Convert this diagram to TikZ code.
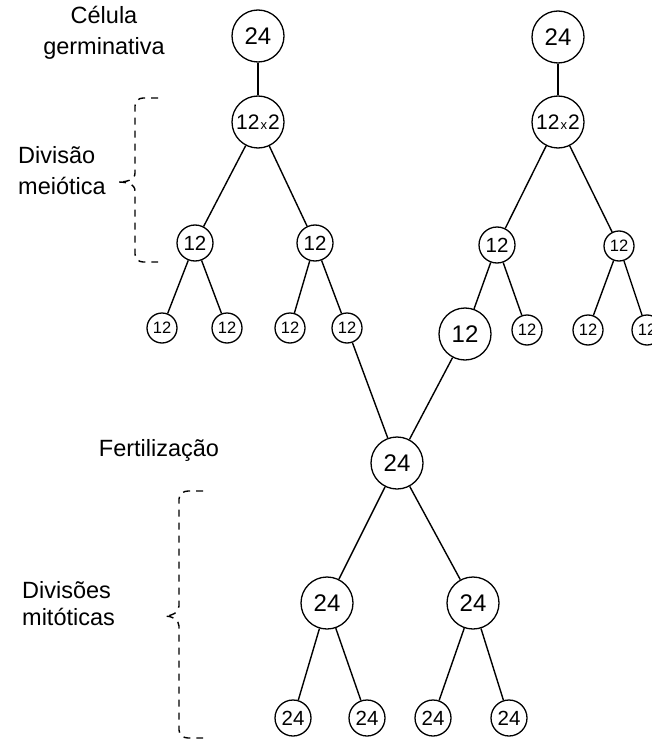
\documentclass[tikz,border=0pt]{standalone}
\usepackage{fontspec}
\setmainfont{Liberation Sans}

\tikzset{
  cell/.style={circle,draw,line width=1.3pt,inner sep=0pt},
  bigcell/.style={cell,minimum size=52pt,font=\fontsize{24}{24}\selectfont},
  midcell/.style={cell,minimum size=36pt,font=\fontsize{20.5}{20.5}\selectfont},
  smallcell/.style={cell,minimum size=30pt,font=\fontsize{16.5}{16.5}\selectfont},
  lbl/.style={inner sep=0pt,font=\fontsize{23.5}{31}\selectfont},
  link/.style={line width=1.4pt},
  dbrace/.style={line width=1.4pt,dash pattern=on 7pt off 6pt}
}
\newcommand{\twelvetwo}{{\fontsize{21}{21}\selectfont 12\kern1pt{\fontsize{13}{13}\selectfont x}\kern1pt 2}}

\begin{document}
\begin{tikzpicture}[x=1pt,y=-1pt]
\useasboundingbox (0,0) rectangle (652,741);

% labels
\node[lbl,align=center] (celula) at (104,33) {Célula\\germinativa};
\node[lbl,align=left,anchor=west] (meiose) at (18,171) {Divisão\\meiótica};
\node[lbl] (fert) at (159,450) {Fertilização};
\node[lbl,align=left,anchor=west] (mitose) at (22,604) {Divisões\\[-4pt]mitóticas};

% braces
\draw[dbrace] (158,98) -- (143,98) to[out=180,in=90] (135,106) -- (135,173)
  to[out=-90,in=0] (118,182) to[out=0,in=90] (135,191) -- (135,254)
  to[out=-90,in=180] (143,262) -- (158,262);
\draw[dbrace] (203,491) -- (188,491) to[out=180,in=90] (179,499) -- (179,606)
  to[out=-90,in=0] (165,616) to[out=0,in=90] (179,626) -- (179,730)
  to[out=-90,in=180] (188,738) -- (203,738);

% left germ cell
\node[bigcell] (gL) at (258,36) {24};
\node[bigcell] (mL) at (258,122) {\twelvetwo};
\node[midcell] (aL) at (195,243) {12};
\node[midcell] (bL) at (315,243) {12};
\node[smallcell] (a1) at (162,328) {12};
\node[smallcell] (a2) at (227,328) {12};
\node[smallcell] (b1) at (290,328) {12};
\node[smallcell] (b2) at (347,328) {12};

% right germ cell
\node[bigcell] (gR) at (558,37) {24};
\node[bigcell] (mR) at (558,122) {\twelvetwo};
\node[midcell] (aR) at (497,245) {12};
\node[smallcell] (bR) at (619,246) {12};
\node[bigcell] (c1) at (465,334) {12};
\node[smallcell] (c2) at (527,330) {12};
\node[smallcell] (d1) at (588,330) {12};
\node[smallcell] (d2) at (647,330) {12};

% zygote and mitoses
\node[bigcell] (z) at (397,463) {24};
\node[bigcell] (m1) at (327,603) {24};
\node[bigcell] (m2) at (473,603) {24};
\node[midcell] (e1) at (293,718) {24};
\node[midcell] (e2) at (367,718) {24};
\node[midcell] (e3) at (433,718) {24};
\node[midcell] (e4) at (509,718) {24};

\draw[link] (gL) -- (mL);
\draw[link] (mL) -- (aL);
\draw[link] (mL) -- (bL);
\draw[link] (aL) -- (a1);
\draw[link] (aL) -- (a2);
\draw[link] (bL) -- (b1);
\draw[link] (bL) -- (b2);

\draw[link] (gR) -- (mR);
\draw[link] (mR) -- (aR);
\draw[link] (mR) -- (bR);
\draw[link] (aR) -- (c1);
\draw[link] (aR) -- (c2);
\draw[link] (bR) -- (d1);
\draw[link] (bR) -- (d2);

\draw[link] (b2) -- (z);
\draw[link] (c1) -- (z);
\draw[link] (z) -- (m1);
\draw[link] (z) -- (m2);
\draw[link] (m1) -- (e1);
\draw[link] (m1) -- (e2);
\draw[link] (m2) -- (e3);
\draw[link] (m2) -- (e4);
\end{tikzpicture}
\end{document}
